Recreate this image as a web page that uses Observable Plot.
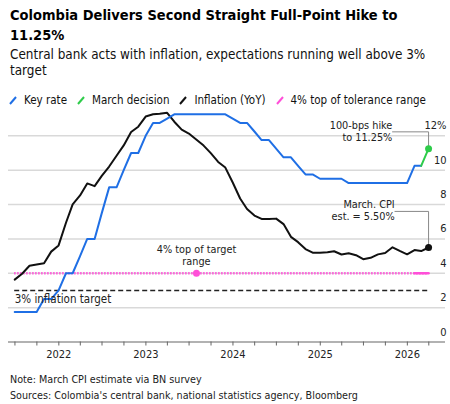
<!DOCTYPE html>
<html><head><meta charset="utf-8">
<script src="https://cdn.jsdelivr.net/npm/d3@7"></script>
<script src="https://cdn.jsdelivr.net/npm/@observablehq/plot@0.6"></script>
<style>
body{margin:0;background:#fff;font-family:"DejaVu Sans Condensed","DejaVu Sans",sans-serif;color:#111;}
#wrap{position:relative;width:450px;height:404px;overflow:hidden;}
#title{position:absolute;left:10px;top:5px;font-weight:bold;font-size:14.5px;line-height:20px;color:#000;white-space:nowrap;}
#sub{position:absolute;left:10px;top:47px;font-size:13.4px;line-height:16px;white-space:nowrap;color:#111;}
#legend{position:absolute;left:9px;top:92px;font-size:11.5px;line-height:16px;display:flex;white-space:nowrap;color:#111;}
.item{display:flex;align-items:center;margin-right:10px;}
.item svg{margin-right:7px;}
#chart{position:absolute;left:0;top:108px;}
#foot{position:absolute;left:10px;top:372px;font-size:10.7px;line-height:16px;color:#222;white-space:nowrap;}
</style></head><body>
<div id="wrap">
<div id="title">Colombia Delivers Second Straight Full-Point Hike to<br>11.25%</div>
<div id="sub">Central bank acts with inflation, expectations running well above 3%<br>target</div>
<div id="legend"></div>
<div id="chart"></div>
<div id="foot">Note: March CPI estimate via BN survey<br>Sources: Colombia's central bank, national statistics agency, Bloomberg</div>
</div>
<script>
// ---- data ----
const firstMonth = "2021-06";   // monthly series start (month-end values)
const keyRate = [
  1.75, 1.75, 1.75, 1.75, 2.50, 2.50, 3.00,
  4.00, 4.00, 5.00, 6.00, 6.00, 7.50, 9.00, 9.00, 10.00, 11.00, 11.00, 12.00,
  12.75, 12.75, 13.00, 13.25, 13.25, 13.25, 13.25, 13.25, 13.25, 13.25, 13.25, 13.00,
  12.75, 12.75, 12.25, 11.75, 11.75, 11.25, 10.75, 10.75, 10.25, 9.75, 9.75, 9.50,
  9.50, 9.50, 9.50, 9.25, 9.25, 9.25, 9.25, 9.25, 9.25, 9.25, 9.25, 9.25,
  10.25, 10.25
];
const marchMonths = ["2026-02", "2026-03"];
const marchDecision = [10.25, 11.25];
const inflation = [
  3.63, 3.97, 4.44, 4.51, 4.58, 5.26, 5.62,
  6.94, 8.01, 8.53, 9.23, 9.07, 9.67, 10.21, 10.84, 11.44, 12.22, 12.53, 13.12,
  13.25, 13.28, 13.34, 12.82, 12.36, 12.13, 11.78, 11.43, 10.99, 10.48, 10.15, 9.28,
  8.35, 7.74, 7.36, 7.16, 7.16, 7.18, 6.86, 6.12, 5.81, 5.41, 5.20, 5.20,
  5.22, 5.28, 5.09, 5.16, 5.05, 4.82, 4.90, 5.10, 5.18, 5.51, 5.30, 5.10,
  5.35, 5.29, 5.50
];
const toleranceTop = 4;
const toleranceMonths = ["2026-01", "2026-03"];
const targetRate = 3;
const toleranceMarkerMonth = "2023-08";
const yTicks = [0, 2, 4, 6, 8, 10, 12];
const legendLabels = ["Key rate", "March decision", "Inflation (YoY)", "4% top of tolerance range"];
const legendColors = ["#1f6fe5", "#2ecc4a", "#111111", "#ff4fd8"];
const noteHike = "100-bps hike\nto 11.25%";
const noteCPI = "March. CPI\nest. = 5.50%";
const noteTolerance = "4% top of target\nrange";
const noteTarget = "3% inflation target";

// ---- helpers ----
const pm = s => new Date(s + "-01T00:00:00Z");
const monthEnd = d => d3.utcDay.offset(d3.utcMonth.offset(d, 1), -1);
const months = n => d3.range(n).map(i => monthEnd(d3.utcMonth.offset(pm(firstMonth), i)));
const keyData = months(keyRate.length).map((d, i) => ({date: d, v: keyRate[i]}));
const inflData = months(inflation.length).map((d, i) => ({date: d, v: inflation[i]}));
const marchData = marchMonths.map((m, i) => ({date: monthEnd(pm(m)), v: marchDecision[i]}));
const tolData = toleranceMonths.map(m => ({date: monthEnd(pm(m)), v: toleranceTop}));
const startDate = keyData[0].date;
const endDate = inflData[inflData.length - 1].date;
const [BLUE, GREEN, BLACK, PINK] = legendColors;

// legend
const leg = document.getElementById("legend");
legendLabels.forEach((t, i) => {
  const el = document.createElement("div");
  el.className = "item";
  el.innerHTML = `<svg width="8" height="10"><line x1="1" y1="9" x2="7" y2="2" stroke="${legendColors[i]}" stroke-width="2"/></svg><span>${t}</span>`;
  leg.appendChild(el);
});

const FONT = '"DejaVu Sans Condensed","DejaVu Sans",sans-serif';
const chart = Plot.plot({
  width: 450, height: 262,
  marginLeft: 8, marginRight: 5, marginTop: 27.3, marginBottom: 28.5,
  x: {type: "utc", domain: [new Date("2021-06-04"), new Date("2026-06-10")]},
  y: {domain: [0, 12]},
  style: {fontFamily: FONT, fontSize: "11px", color: "#222", background: "white"},
  marks: [
    Plot.ruleY(yTicks.filter(d => d > 0), {stroke: "#d9d9d9", strokeWidth: 1.5}),
    Plot.ruleY([0], {stroke: "#666", strokeWidth: 1.2}),
    Plot.axisX({
      ticks: d3.utcMonth.range(new Date("2021-07-01"), new Date("2026-05-01"), 3),
      tickFormat: d => d.getUTCMonth() === 0 ? String(d.getUTCFullYear()) : "",
      tickSize: 4, tickPadding: 4, stroke: "#666", label: null, fontSize: 11
    }),
    Plot.axisY({
      anchor: "right", ticks: yTicks, tickSize: 0, tickPadding: 0, textAnchor: "end",
      dx: 1, dy: -10, label: null, fontSize: 11,
      tickFormat: d => d === 12 ? "12%" : String(d)
    }),
    Plot.ruleY([targetRate], {x1: startDate, x2: endDate, stroke: "#222", strokeWidth: 1.5, strokeDasharray: "5,3"}),
    Plot.ruleY([toleranceTop], {x1: startDate, x2: endDate, stroke: PINK, strokeWidth: 2.5, strokeDasharray: "1.4,1.6"}),
    Plot.line(tolData, {x: "date", y: "v", stroke: PINK, strokeWidth: 2.5}),
    Plot.dot([{date: pm(toleranceMarkerMonth), v: toleranceTop}], {x: "date", y: "v", fill: PINK, r: 3.5}),
    Plot.line(inflData, {x: "date", y: "v", stroke: BLACK, strokeWidth: 2}),
    Plot.line(keyData, {x: "date", y: "v", stroke: BLUE, strokeWidth: 2}),
    Plot.line(marchData, {x: "date", y: "v", stroke: GREEN, strokeWidth: 2}),
    // leader lines
    Plot.line([
      {date: new Date("2025-10-31"), v: 12.23},
      {date: marchData[1].date, v: 12.23},
      {date: marchData[1].date, v: marchData[1].v}
    ], {x: "date", y: "v", stroke: "#888", strokeWidth: 1}),
    Plot.line([
      {date: new Date("2025-11-10"), v: 7.6},
      {date: inflData[inflData.length - 1].date, v: 7.6},
      {date: inflData[inflData.length - 1].date, v: inflData[inflData.length - 1].v}
    ], {x: "date", y: "v", stroke: "#888", strokeWidth: 1}),
    Plot.dot([marchData[1]], {x: "date", y: "v", fill: GREEN, r: 3.5}),
    Plot.dot([inflData[inflData.length - 1]], {x: "date", y: "v", fill: BLACK, r: 3.5}),
    // annotations
    Plot.text([noteHike], {x: new Date("2025-10-30"), y: 12.28, text: d => d, textAnchor: "end", lineHeight: 1.1, fontSize: 10.8, fill: "#222"}),
    Plot.text([noteCPI], {x: new Date("2025-11-09"), y: 7.67, text: d => d, textAnchor: "end", lineHeight: 1.1, fontSize: 10.8, fill: "#222"}),
    Plot.text([noteTolerance], {x: pm(toleranceMarkerMonth), y: 5.04, text: d => d, textAnchor: "middle", lineHeight: 1.1, fontSize: 10.8, fill: "#222"}),
    Plot.text([noteTarget], {x: startDate, y: 2.46, text: d => d, textAnchor: "start", fontSize: 11.5, fill: "#222"})
  ]
});
document.getElementById("chart").appendChild(chart);
</script>
</body></html>
